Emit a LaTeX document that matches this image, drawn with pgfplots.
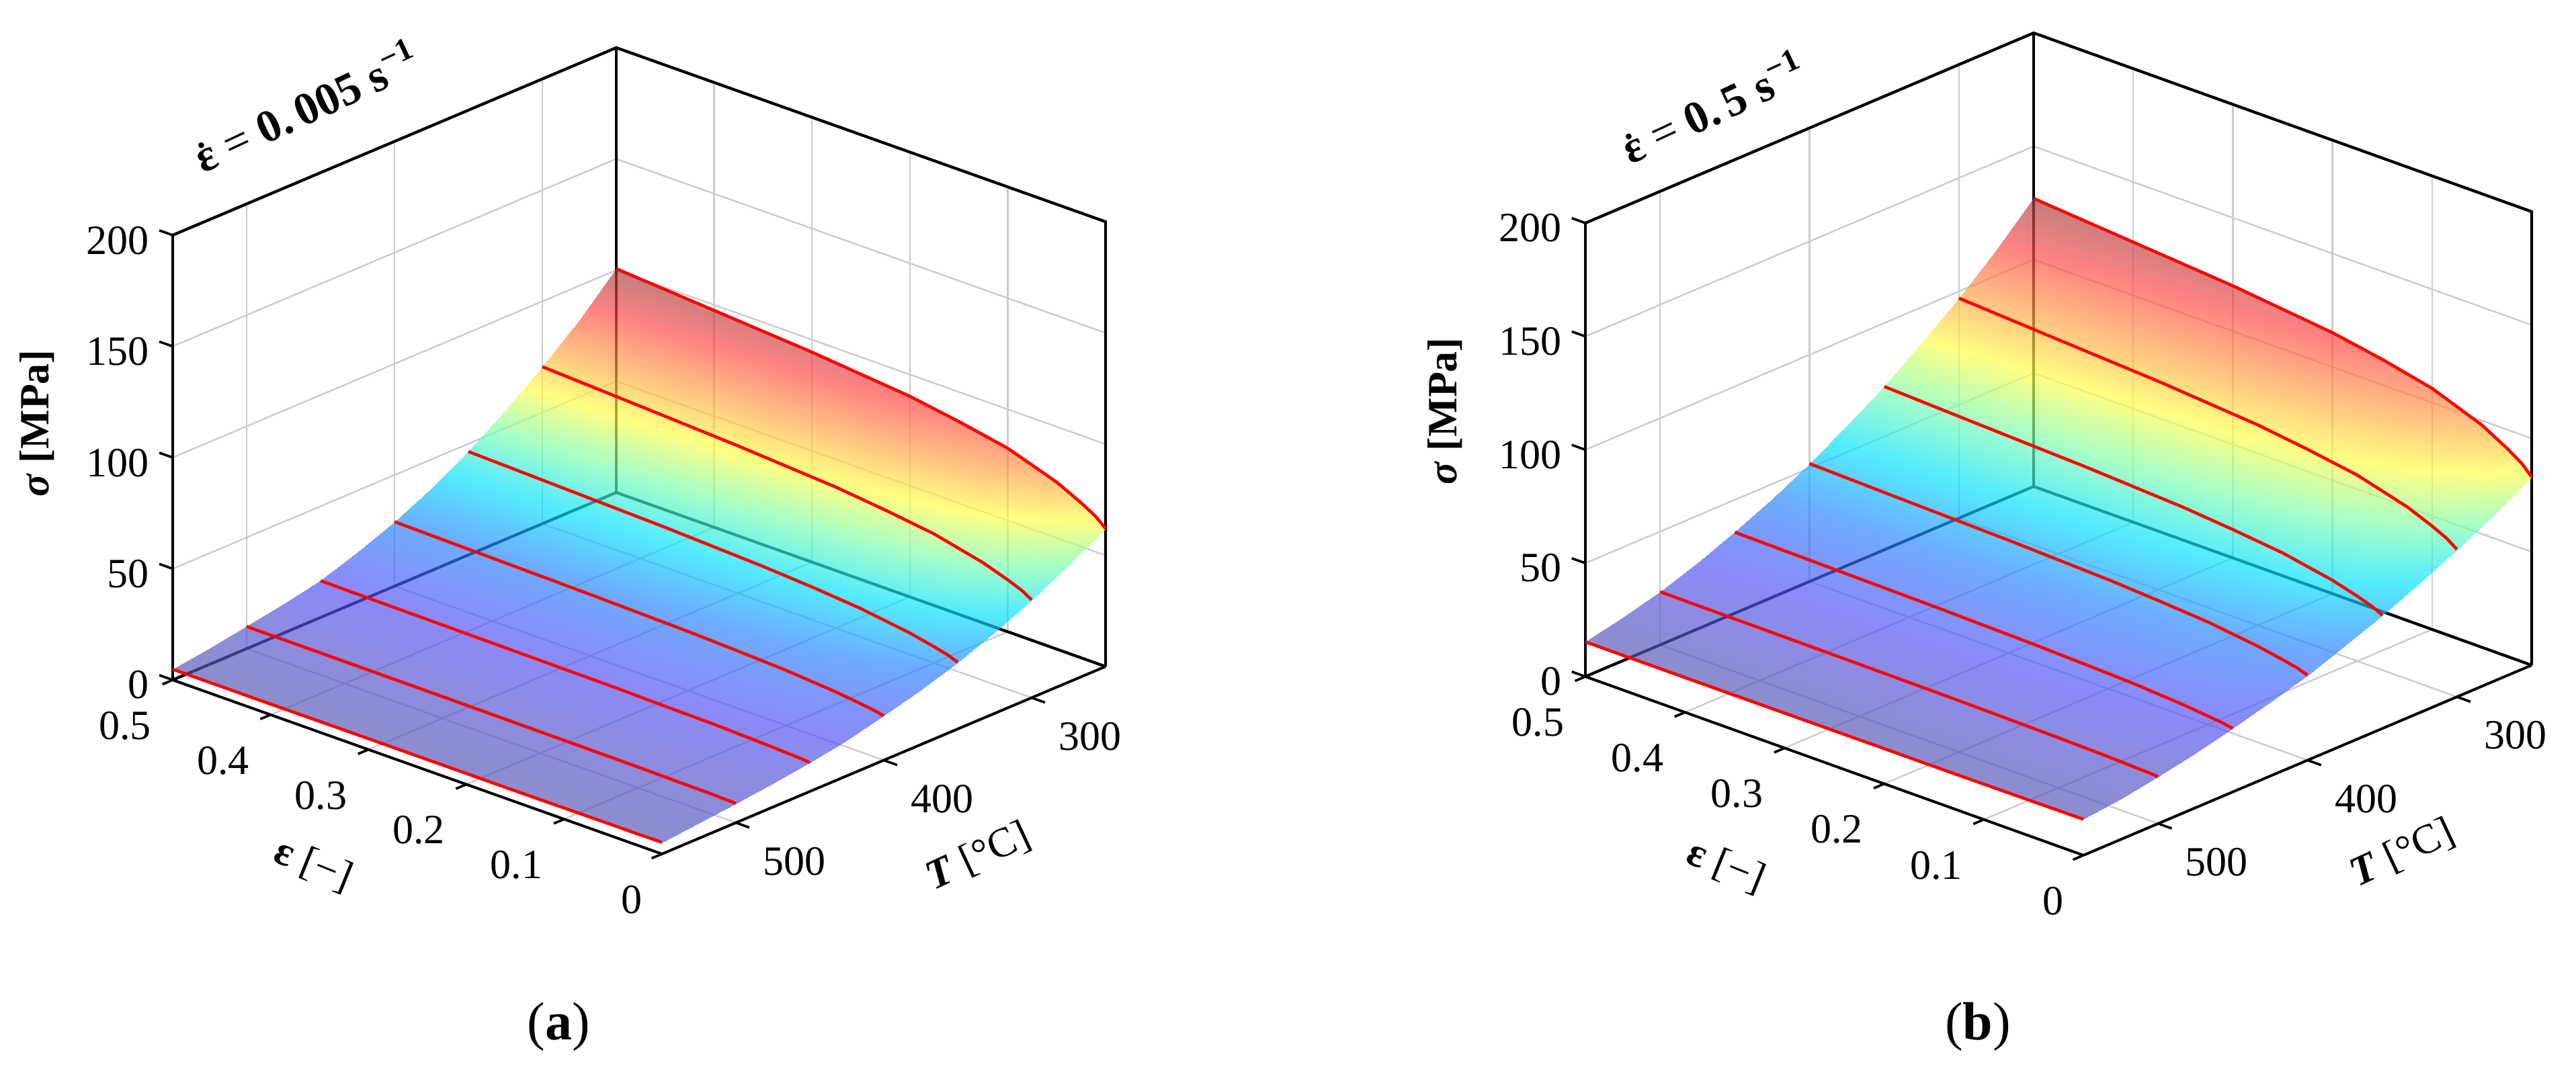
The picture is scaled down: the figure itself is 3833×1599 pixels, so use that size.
\documentclass[border=0pt]{standalone}
\usepackage{fontspec}
\setmainfont{Liberation Serif}
\usepackage{pgfplots}
\usepackage{pgfplotstable}
\pgfplotsset{compat=1.18}

% columns: strain, temperature, stress
\pgfplotstableread{
e T s
0 250 62.0
0.01 250 65.9
0.025 250 69.7
0.05 250 75.1
0.1 250 82.5
0.15 250 86.7
0.2 250 90.2
0.3 250 94.4
0.4 250 97.5
0.5 250 100.6
0 275 52.5
0.01 275 55.7
0.025 275 58.9
0.05 275 63.4
0.1 275 69.5
0.15 275 73.0
0.2 275 75.9
0.3 275 79.4
0.4 275 81.9
0.5 275 84.5
0 300 44.0
0.01 300 46.7
0.025 300 49.3
0.05 300 53.0
0.1 300 58.1
0.15 300 61.0
0.2 300 63.4
0.3 300 66.3
0.4 300 68.5
0.5 300 70.6
0 325 36.5
0.01 325 38.6
0.025 325 40.8
0.05 325 43.7
0.1 325 47.8
0.15 325 50.1
0.2 325 52.0
0.3 325 54.4
0.4 325 56.1
0.5 325 57.8
0 350 30.0
0.01 350 31.7
0.025 350 33.3
0.05 350 35.6
0.1 350 38.7
0.15 350 40.6
0.2 350 42.0
0.3 350 43.9
0.4 350 45.2
0.5 350 46.5
0 375 24.5
0.01 375 25.8
0.025 375 27.0
0.05 375 28.8
0.1 375 31.1
0.15 375 32.5
0.2 375 33.6
0.3 375 35.0
0.4 375 36.0
0.5 375 37.0
0 400 20.0
0.01 400 20.9
0.025 400 21.8
0.05 400 23.1
0.1 400 24.8
0.15 400 25.8
0.2 400 26.6
0.3 400 27.6
0.4 400 28.3
0.5 400 29.0
0 425 16.0
0.01 425 16.6
0.025 425 17.2
0.05 425 18.1
0.1 425 19.3
0.15 425 20.0
0.2 425 20.5
0.3 425 21.2
0.4 425 21.7
0.5 425 22.2
0 450 13.0
0.01 450 13.4
0.025 450 13.7
0.05 450 14.2
0.1 450 14.9
0.15 450 15.2
0.2 450 15.6
0.3 450 15.9
0.4 450 16.2
0.5 450 16.5
0 475 10.6
0.01 475 10.8
0.025 475 11.1
0.05 475 11.4
0.1 475 11.9
0.15 475 12.1
0.2 475 12.4
0.3 475 12.6
0.4 475 12.8
0.5 475 13.0
0 500 8.7
0.01 500 8.8
0.025 500 9.0
0.05 500 9.1
0.1 500 9.4
0.15 500 9.5
0.2 500 9.6
0.3 500 9.8
0.4 500 9.9
0.5 500 10.0
0 525 6.8
0.01 525 6.8
0.025 525 6.9
0.05 525 6.9
0.1 525 7.0
0.15 525 7.1
0.2 525 7.1
0.3 525 7.1
0.4 525 7.2
0.5 525 7.2
0 550 5.2
0.01 550 5.2
0.025 550 5.1
0.05 550 5.1
0.1 550 5.0
0.15 550 4.9
0.2 550 4.9
0.3 550 4.9
0.4 550 4.8
0.5 550 4.8
}\tablea

\pgfplotstableread{
e T s
0 250 83.0
0.01 250 87.4
0.025 250 91.8
0.05 250 98.0
0.1 250 106.3
0.15 250 111.2
0.2 250 115.1
0.3 250 120.0
0.4 250 123.5
0.5 250 127.0
0 275 73.5
0.01 275 77.3
0.025 275 81.0
0.05 275 86.3
0.1 275 93.4
0.15 275 97.5
0.2 275 100.9
0.3 275 105.0
0.4 275 108.0
0.5 275 111.0
0 300 65.0
0.01 300 68.2
0.025 300 71.4
0.05 300 75.9
0.1 300 82.0
0.15 300 85.5
0.2 300 88.4
0.3 300 91.9
0.4 300 94.4
0.5 300 97.0
0 325 57.0
0.01 325 59.7
0.025 325 62.4
0.05 325 66.2
0.1 325 71.3
0.15 325 74.3
0.2 325 76.7
0.3 325 79.7
0.4 325 81.8
0.5 325 84.0
0 350 50.0
0.01 350 52.2
0.025 350 54.4
0.05 350 57.5
0.1 350 61.7
0.15 350 64.1
0.2 350 66.1
0.3 350 68.5
0.4 350 70.2
0.5 350 72.0
0 375 43.5
0.01 375 45.3
0.025 375 47.1
0.05 375 49.6
0.1 375 53.0
0.15 375 55.0
0.2 375 56.6
0.3 375 58.6
0.4 375 60.1
0.5 375 61.5
0 400 37.5
0.01 400 39.0
0.025 400 40.4
0.05 400 42.4
0.1 400 45.2
0.15 400 46.8
0.2 400 48.1
0.3 400 49.7
0.4 400 50.8
0.5 400 52.0
0 425 32.5
0.01 425 33.6
0.025 425 34.7
0.05 425 36.2
0.1 425 38.2
0.15 425 39.4
0.2 425 40.4
0.3 425 41.6
0.4 425 42.4
0.5 425 43.3
0 450 28.0
0.01 450 28.8
0.025 450 29.5
0.05 450 30.6
0.1 450 32.1
0.15 450 32.9
0.2 450 33.6
0.3 450 34.5
0.4 450 35.1
0.5 450 35.7
0 475 24.0
0.01 475 24.5
0.025 475 25.0
0.05 475 25.7
0.1 475 26.7
0.15 475 27.2
0.2 475 27.7
0.3 475 28.2
0.4 475 28.6
0.5 475 29.0
0 500 20.7
0.01 500 21.0
0.025 500 21.2
0.05 500 21.6
0.1 500 22.1
0.15 500 22.4
0.2 500 22.7
0.3 500 23.0
0.4 500 23.2
0.5 500 23.4
0 525 18.0
0.01 525 18.1
0.025 525 18.2
0.05 525 18.3
0.1 525 18.5
0.15 525 18.6
0.2 525 18.7
0.3 525 18.8
0.4 525 18.9
0.5 525 19.0
0 550 15.9
0.01 550 15.8
0.025 550 15.8
0.05 550 15.7
0.1 550 15.6
0.15 550 15.5
0.2 550 15.5
0.3 550 15.4
0.4 550 15.3
0.5 550 15.3
}\tableb

\pgfplotsset{
    panel/.style={
        anchor=origin,
        clip=false,
        xmin=0, xmax=0.5,
        ymin=250, ymax=550,
        zmin=0, zmax=200,
        xtick={0,0.1,0.2,0.3,0.4,0.5},
        xticklabels={\hspace*{13pt}0,0.1,0.2,0.3,0.4,0.5},
        ytick={300,400,500},
        yticklabels={300,400,500},
        ztick={0,50,100,150,200},
        zticklabels={0,50,100,150,200},
        tick align=outside,
        tickpos=left,
        major tick length=4pt,
        major tick style={draw=none},
        axis line style={black, line width=1pt},
        grid=major,
        major grid style={gray!40, line width=0.6pt},
        tick label style={font=\fontsize{15.5}{17}\selectfont, inner sep=1pt},
        xticklabel style={anchor=center, xshift=-14pt, yshift=-15.5pt},
        yticklabel style={anchor=center, xshift=18pt, yshift=-13pt},
        zticklabel style={xshift=-4pt},
        colormap={refjet}{
            rgb(0pt)=(.34,.34,.71);
            rgb(125pt)=(.325,.325,.97);
            rgb(250pt)=(.16,.51,1);
            rgb(375pt)=(0,.885,1);
            rgb(500pt)=(.48,1,.68);
            rgb(625pt)=(1,1,.28);
            rgb(750pt)=(1,.625,.28);
            rgb(875pt)=(1,.28,.28);
            rgb(1000pt)=(.65,.25,.25)
        },
    },
    sheet/.style={surf, shader=interp, opacity=0.68, mesh/rows=13},
    curve/.style={red, line width=1.15pt, no marks},
    boxline/.style={black, line width=1pt, no marks},
}

% back edges of the box, under the surface
\newcommand{\boxedges}{%
    \addplot3[boxline] coordinates {(0.5,550,200) (0.5,250,200) (0,250,200) (0,250,0)};
    \addplot3[boxline] coordinates {(0.5,550,0) (0.5,250,0) (0,250,0)};
    \addplot3[boxline] coordinates {(0.5,250,0) (0.5,250,200)};
}
\newcommand{\curves}[1]{%
    \pgfplotsinvokeforeach{249:251,299:301,349:351,399:401,449:451,499:501,549:551}{%
        \addplot3[curve, restrict y to domain=##1]
            table[x=e, y=T, z=s] {#1};
    }%
}
% tick marks on the three labelled edges only
\newcommand{\ticksmarks}{%
    \pgfplotsinvokeforeach{0,0.1,0.2,0.3,0.4,0.5}{%
        \draw[black, line width=0.9pt] (axis cs:##1,550,0) -- (axis cs:##1,557,0);
    }%
    \pgfplotsinvokeforeach{300,400,500}{%
        \draw[black, line width=0.9pt] (axis cs:0,##1,0) -- (axis cs:-0.0137,##1,0);
    }%
    \pgfplotsinvokeforeach{0,50,100,150,200}{%
        \draw[black, line width=0.9pt] (axis cs:0.5,550,##1) -- (axis cs:0.5137,550,##1);
    }%
}

\begin{document}
\begin{tikzpicture}[x=0.25pt, y=0.25pt]
\path[use as bounding box] (0,0) rectangle (3833,1599);

% panel a
\begin{axis}[
    panel,
    at={(411.25pt,151.75pt)},
    x={(-364pt,129.5pt)},
    y={(-0.55pt,-0.2325pt)},
    z={(0pt,0.8275pt)},
]
\boxedges
\addplot3[sheet] table[x=e, y=T, z=s] {\tablea};
\curves{\tablea}
\ticksmarks
\end{axis}

% panel b
\begin{axis}[
    panel,
    at={(941.75pt,152.25pt)},
    x={(-370.5pt,133pt)},
    y={(-0.5558pt,-0.2358pt)},
    z={(0pt,0.84375pt)},
]
\boxedges
\addplot3[sheet] table[x=e, y=T, z=s] {\tableb};
\curves{\tableb}
\ticksmarks
\end{axis}

% labels, positions in reference pixels
\def\lab{\fontsize{15.5}{17}\selectfont}
\def\ann{\fontsize{17}{20}\selectfont}
\def\edot{\rlap{\hspace{0.13em}\raisebox{0.52em}{\fontsize{13}{13}\selectfont.}}ε}
\node[rotate=90] at (55,969) {\lab\textbf{\textit{σ}} \textbf{[MPa]}};
\node[rotate=-22] at (466,311) {\lab\textbf{ε} [−]};
\node[rotate=25] at (1456,324) {\lab\textbf{\textit{T}} [°C]};
\node[rotate=25] at (455,1442) {\ann\textbf{\edot} = \textbf{0.\,005 s\textsuperscript{−1}}};
\node at (831,71) {\fontsize{20}{23}\selectfont (\textbf{a})};

\node[rotate=90] at (2150,987) {\lab\textbf{\textit{σ}} \textbf{[MPa]}};
\node[rotate=-22] at (2568,309) {\lab\textbf{ε} [−]};
\node[rotate=25] at (3575,329) {\lab\textbf{\textit{T}} [°C]};
\node[rotate=25] at (2548,1441) {\ann\textbf{\edot} = \textbf{0.\,5 s\textsuperscript{−1}}};
\node at (2943,71) {\fontsize{20}{23}\selectfont (\textbf{b})};
\end{tikzpicture}
\end{document}
